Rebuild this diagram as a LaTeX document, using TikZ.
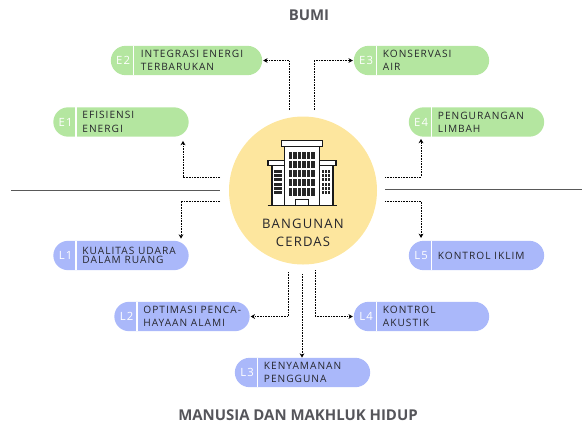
\documentclass[tikz,border=0pt]{standalone}
\usepackage{fontspec}
\setmainfont{Open Sans}
\newfontfamily\spaced[LetterSpace=10]{Open Sans}
\newfontfamily\wide[LetterSpace=9]{Open Sans}
\usetikzlibrary{shapes.misc,arrows.meta}
\definecolor{gr}{HTML}{B4E6A0}
\definecolor{bl}{HTML}{AAB8FA}
\definecolor{ye}{HTML}{FDE69E}
\definecolor{ink}{HTML}{26262C}
\definecolor{ttl}{HTML}{55555A}
\tikzset{
 x=0.75pt,y=-0.75pt,
 pill/.style={rounded rectangle,minimum width=101.5pt,minimum height=22pt,inner sep=0pt,draw=none,fill=#1},
 tag/.style={text=white,font=\wide\fontsize{8.5}{10}\selectfont,inner sep=0pt,anchor=center},
 lab/.style={text=ink,font=\spaced\fontsize{7.6}{10}\selectfont,inner sep=0pt,anchor=west,align=left},
 tight/.style={font=\spaced\fontsize{7.6}{7.2}\selectfont},
 divider/.style={white,line width=0.9pt},
 link/.style={dash pattern=on 0.6pt off 0.6pt,line width=0.65pt,black,-{Stealth[length=3.2pt,width=3.6pt]}},
 rule/.style={line width=0.6pt,black!65},
 title/.style={text=ttl,font=\bfseries\fontsize{11.2}{12}\selectfont,inner sep=0pt},
 bline/.style={line width=0.95pt,black!90,fill=white},
 win/.style={fill=black!85,draw=none},
}
\newcommand{\pillnode}[8]{% name, cx, cy, colour, tag, text, pill opts, label opts
 \node[pill=#4,#7] (#1) at (#2,#3) {};
 \draw[divider] ([shift={(17.25pt,11pt)}]#1.west) -- ([shift={(17.25pt,-11pt)}]#1.west);
 \node[tag] (#1t) at ([xshift=9.4pt]#1.west) {#5};
 \node[lab,#8] (#1l) at ([xshift=22.5pt]#1.west) {#6};
}
\begin{document}
\begin{tikzpicture}
\useasboundingbox (0,0) rectangle (582,426);
\node[title] (bumi) at (309,15) {BUMI};
\node[title] (manusia) at (298,415.5) {MANUSIA DAN MAKHLUK HIDUP};
\draw[rule] (11,190) coordinate (ra) -- (220,190) coordinate (rb);
\draw[rule] (385,189) coordinate (rc) -- (582,189) coordinate (rd);
\node[circle,fill=ye,minimum size=111pt,inner sep=0pt] (hub) at (303,190.5) {};
\node[inner sep=0pt,text=ink,font=\wide\fontsize{9.8}{13.5}\selectfont,align=center] (hubt) at (303,233) {BANGUNAN\\CERDAS};
% building
\draw[bline] (272,165) rectangle (284.5,205.5);
\draw[bline] (319.5,165) rectangle (333,205.5);
\draw[bline] (268,160.7) rectangle (284.5,165.3);
\draw[bline] (319.5,160.7) rectangle (336,165.3);
\draw[bline] (284.5,146.7) rectangle (319.5,205.5);
\draw[bline] (281.3,140.7) rectangle (322.3,146.7);
\foreach \c in {0,...,5}\foreach \r in {0,...,4}
 \fill[win] ({289+\c*4.45},{151.5+\r*9.1}) rectangle ++(3.3,7.6);
\foreach \c in {0,1,2}\foreach \r in {0,...,5}{
 \fill[win] ({274.4+\c*2.9},{169.6+\r*4.3}) rectangle ++(2.2,3.2);
 \fill[win] ({321.7+\c*2.9},{169.6+\r*4.3}) rectangle ++(2.2,3.2);}
\draw[bline] (295.5,199.5) rectangle (308.5,205.5);
\draw[line width=0.95pt,black!90] (267.7,205.7) -- (336.7,205.7);
% pills
\pillnode{e2}{186.5}{60.5}{gr}{E2}{INTEGRASI ENERGI\\TERBARUKAN}{minimum width=113.5pt}{}
\pillnode{e1}{121}{122}{gr}{E1}{EFISIENSI\\ENERGI}{}{xshift=-0.7pt}
\pillnode{e3}{421.5}{60.5}{gr}{E3}{KONSERVASI\\AIR}{}{xshift=-0.7pt}
\pillnode{e4}{476.5}{122}{gr}{E4}{PENGURANGAN\\LIMBAH}{}{xshift=-0.7pt}
\pillnode{l1}{121}{255.5}{bl}{L1}{KUALITAS UDARA\\DALAM RUANG}{}{tight,xshift=-0.7pt}
\pillnode{l2}{182}{316.5}{bl}{L2}{OPTIMASI PENCA-\\HAYAAN ALAMI}{}{xshift=-0.7pt}
\pillnode{l3}{302.5}{372.5}{bl}{L3}{KENYAMANAN\\PENGGUNA}{}{xshift=-0.7pt}
\pillnode{l4}{421.5}{316.5}{bl}{L4}{KONTROL\\AKUSTIK}{}{xshift=-0.7pt}
\pillnode{l5}{476.5}{255.5}{bl}{L5}{KONTROL IKLIM}{}{xshift=-0.7pt}
% connectors
\coordinate (se2) at (289,110);
\coordinate (se1) at (220,177);
\coordinate (se3) at (314,110);
\coordinate (se4) at (385,177);
\coordinate (sl1) at (220,201);
\coordinate (sl5) at (385,201);
\coordinate (sl2) at (288,272);
\coordinate (sl3) at (302,274);
\coordinate (sl4) at (315,270);
\draw[link] (se2) |- ([xshift=0.6pt]e2.east);
\draw[link] (se3) |- ([xshift=-0.6pt]e3.west);
\draw[link] (se1) -| ([shift={(46.5pt,-3pt)}]e1.south);
\draw[link] (se4) -| ([shift={(-41.6pt,-1.5pt)}]e4.south);
\draw[link] (sl1) -| ([shift={(45pt,1.5pt)}]l1.north);
\draw[link] (sl5) -| ([shift={(-41.6pt,2pt)}]l5.north);
\draw[link] (sl2) |- ([xshift=0.6pt]l2.east);
\draw[link] (sl4) |- ([xshift=-0.6pt]l4.west);
\draw[link] (sl3) -- (sl3 |- l3.north);
\end{tikzpicture}
\end{document}
